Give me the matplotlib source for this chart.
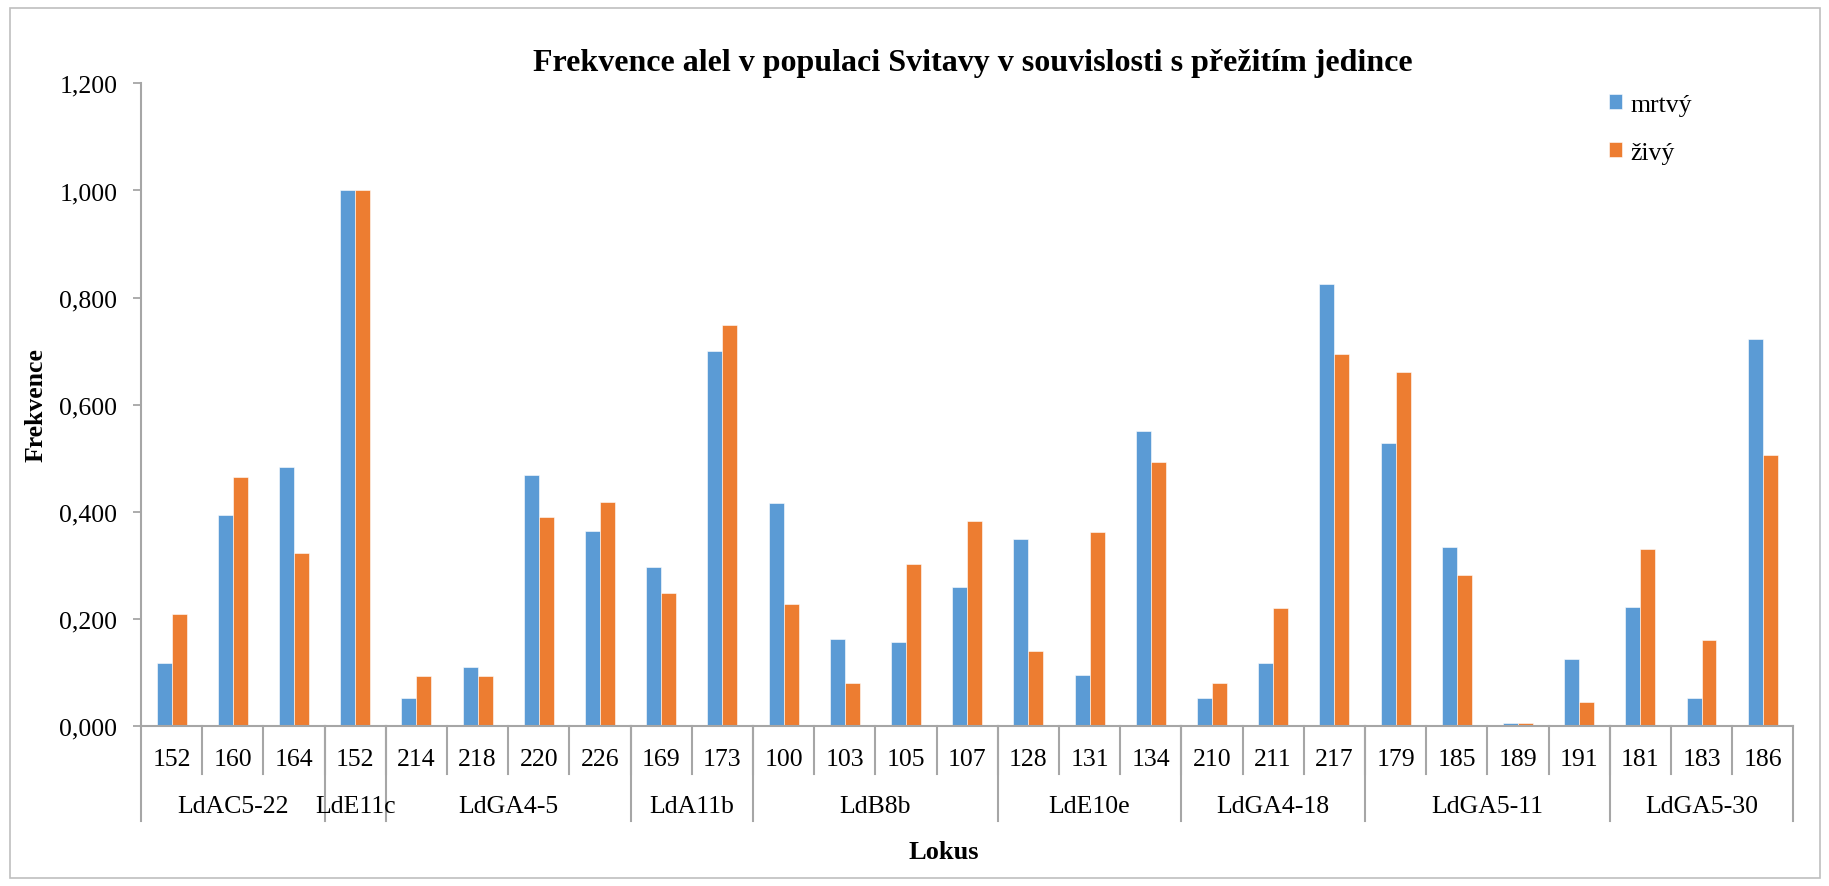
"""
Allele frequencies in the Svitavy population by survival of the individual.
"""

import matplotlib.pyplot as plt
from matplotlib.patches import Rectangle
from matplotlib.ticker import FuncFormatter


# Data
loci = ["LdAC5-22", "LdE11c", "LdGA4-5", "LdA11b", "LdB8b",
        "LdE10e", "LdGA4-18", "LdGA5-11", "LdGA5-30"]
alleles = [
    ["152", "160", "164"],
    ["152"],
    ["214", "218", "220", "226"],
    ["169", "173"],
    ["100", "103", "105", "107"],
    ["128", "131", "134"],
    ["210", "211", "217"],
    ["179", "185", "189", "191"],
    ["181", "183", "186"],
]
mrtvy = [0.119, 0.395, 0.484,
         1.000,
         0.052, 0.111, 0.469, 0.365,
         0.297, 0.700,
         0.417, 0.163, 0.157, 0.260,
         0.350, 0.096, 0.551,
         0.052, 0.118, 0.826,
         0.529, 0.335, 0.006, 0.126,
         0.223, 0.052, 0.723]
zivy = [0.209, 0.465, 0.323,
        1.000,
        0.093, 0.093, 0.391, 0.418,
        0.249, 0.749,
        0.229, 0.080, 0.303, 0.384,
        0.141, 0.363, 0.493,
        0.080, 0.221, 0.695,
        0.661, 0.283, 0.006, 0.046,
        0.330, 0.161, 0.506]
series_names = ["mrtvý", "živý"]

W, H = 1829, 887
BLUE = "#5B9BD5"
ORANGE = "#ED7D31"
GRID = "#A6A6A6"


def fx(px):
    return px / W


def fy(py):
    return 1 - py / H


def plot_chart(save_path: str) -> None:
    plt.rcParams["font.family"] = ["Liberation Serif", "DejaVu Serif"]

    fig = plt.figure(figsize=(W / 100, H / 100), dpi=100)
    ax = fig.add_axes([fx(141), fy(727.3), fx(1793.3) - fx(141), fy(84.3) - fy(727.3)])

    n = len(mrtvy)
    xs = [i + 0.5 for i in range(n)]
    bw = 0.245
    ax.bar([x - bw / 2 for x in xs], mrtvy, width=bw, color=BLUE,
           edgecolor="white", linewidth=0.4, label=series_names[0])
    ax.bar([x + bw / 2 for x in xs], zivy, width=bw, color=ORANGE,
           edgecolor="white", linewidth=0.4, label=series_names[1])

    ax.set_xlim(0, n)
    ax.set_ylim(0, 1.2)
    ax.set_yticks([0, 0.2, 0.4, 0.6, 0.8, 1.0, 1.2])
    ax.yaxis.set_major_formatter(FuncFormatter(lambda v, p: f"{v:.3f}".replace(".", ",")))
    ax.tick_params(axis="y", labelsize=18.5, length=6, width=1.3, color=GRID, pad=11)
    ax.set_xticks([])
    for s in ["top", "right"]:
        ax.spines[s].set_visible(False)
    for s in ["left", "bottom"]:
        ax.spines[s].set_color(GRID)
        ax.spines[s].set_linewidth(1.5)

    # multi-level category axis
    tr = ax.get_xaxis_transform()
    axh = 727.3 - 84.3
    short_y = -(775 - 727.3) / axh
    long_y = -(822.3 - 727.3) / axh
    allele_y = -(760 - 727.3) / axh
    group_y = -(807 - 727.3) / axh

    pos = 0
    group_edges = [0]
    for locus, als in zip(loci, alleles):
        for a in als:
            ax.text(pos + 0.5, allele_y, a, transform=tr, ha="center", va="center",
                    fontsize=18.5)
            pos += 1
            if pos < n:
                ax.plot([pos, pos], [0, short_y], transform=tr, color=GRID,
                        lw=1.5, clip_on=False)
        start = group_edges[-1]
        ax.text((start + pos) / 2, group_y, locus, transform=tr, ha="center",
                va="center", fontsize=18.5)
        group_edges.append(pos)
    for e in group_edges:
        ax.plot([e, e], [0, long_y], transform=tr, color=GRID, lw=1.5, clip_on=False)

    fig.text(fx(973), fy(71), "Frekvence alel v populaci Svitavy v souvislosti s přežitím jedince",
             ha="center", va="baseline", fontsize=23, fontweight="bold")
    fig.text(fx(36), fy(405), "Frekvence", rotation=90, ha="center", va="center",
             fontsize=18.5, fontweight="bold")
    fig.text(fx(944), fy(853), "Lokus", ha="center", va="center",
             fontsize=19, fontweight="bold")

    fig.legend(loc="upper left", bbox_to_anchor=(fx(1609), fy(95)), frameon=False,
               fontsize=18.5, handlelength=0.52, handleheight=0.52, handletextpad=0.3,
               labelspacing=1.0, borderpad=0, borderaxespad=0)

    # chart area border
    fig.patches.append(Rectangle((fx(10), fy(879)), fx(1820) - fx(10), fy(9) - fy(879),
                                 transform=fig.transFigure, fill=False,
                                 edgecolor="#BFBFBF", linewidth=1.2))

    fig.savefig(save_path, dpi=100)
    plt.close(fig)


if __name__ == "__main__":
    plot_chart("out.png")
